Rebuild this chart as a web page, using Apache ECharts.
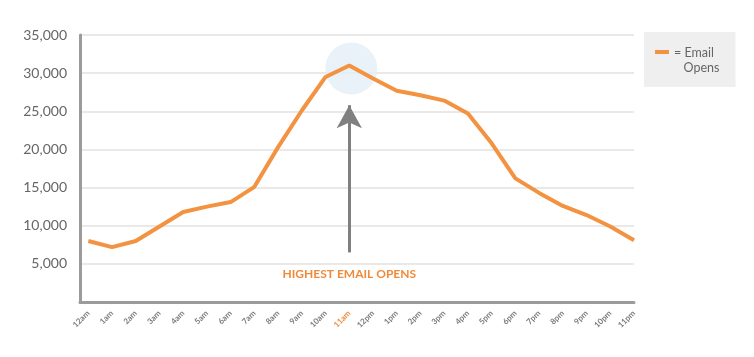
<!DOCTYPE html>
<html>
<head>
<meta charset="utf-8">
<script src="https://cdn.jsdelivr.net/npm/echarts@6/dist/echarts.min.js"></script>
<style>
html,body{margin:0;padding:0;background:#fff;}
#chart{width:754px;height:357px;}
</style>
</head>
<body>
<div id="chart"></div>
<script>
// ---- data ----
const hours = ['12am','1am','2am','3am','4am','5am','6am','7am','8am','9am','10am','11am',
               '12pm','1pm','2pm','3pm','4pm','5pm','6pm','7pm','8pm','9pm','10pm','11pm'];
const emailOpens = [8000, 7200, 8000, 9900, 11800, 12500, 13100, 15100, 20300, 25100, 29500, 31000,
                    29300, 27700, 27100, 26400, 24700, 20800, 16200, 14300, 12600, 11400, 9900, 8100];
const yTicks = [5000, 10000, 15000, 20000, 25000, 30000, 35000];
const seriesName = 'Email Opens';
const annotationText = 'HIGHEST EMAIL OPENS';
const arrowFromValue = 6500;
const arrowToValue = 25800;
const highlightHour = '11am';

const FONT = 'Lato, "Open Sans", sans-serif';
const ORANGE = '#f39341';
const peakIdx = emailOpens.indexOf(Math.max(...emailOpens));
const peakVal = emailOpens[peakIdx];

const chart = echarts.init(document.getElementById('chart'));
chart.setOption({
  animation: false,
  backgroundColor: '#ffffff',
  grid: { left: 80, right: 120, top: 35, bottom: 55 },
  legend: {
    data: [seriesName],
    left: 644, top: 32,
    orient: 'vertical',
    backgroundColor: '#efefef',
    padding: [13, 16, 12, 11],
    itemWidth: 14, itemHeight: 20,
    icon: 'path://M0,0h14v4h-14z M0,20h0.01',
    formatter: () => '= Email\n   Opens',
    textStyle: { color: '#666666', fontSize: 12.5, lineHeight: 15, fontFamily: FONT }
  },
  xAxis: {
    type: 'value',
    min: -0.35, max: hours.length - 1,
    axisLine: { show: true, onZero: false, lineStyle: { color: '#9b9b9b', width: 3 } },
    axisTick: { show: false },
    splitLine: { show: false },
    axisLabel: {
      customValues: hours.map((h, i) => i),
      formatter: v => hours[v] || '',
      rotate: 45,
      margin: 10,
      fontSize: 8,
      fontWeight: 'bold',
      fontFamily: FONT,
      color: (v) => hours[v] === highlightHour ? '#ef8a3a' : '#7a7a7a'
    }
  },
  yAxis: {
    type: 'value',
    min: 0, max: 35000, interval: 5000,
    axisLine: { show: true, onZero: false, lineStyle: { color: '#9b9b9b', width: 3 } },
    axisTick: { show: false },
    splitLine: { show: true, lineStyle: { color: '#e9e9e9', width: 2 } },
    axisLabel: {
      margin: 13,
      fontSize: 14,
      fontFamily: FONT,
      color: '#666666',
      formatter: v => yTicks.includes(v) ? v.toLocaleString('en-US') : ''
    }
  },
  series: [
    {
      name: 'highlight',
      type: 'scatter',
      z: 1,
      silent: true,
      symbolSize: 52,
      symbolOffset: [2, 3],
      itemStyle: { color: '#e4eff6' },
      data: [[peakIdx, peakVal]],
      markLine: {
        silent: true,
        symbol: ['none', 'arrow'],
        symbolSize: [19, 23],
        lineStyle: { color: '#808080', width: 3, type: 'solid' },
        label: {
          show: true,
          position: 'start',
          distance: 16,
          formatter: annotationText,
          color: '#ef8a3a',
          fontSize: 12,
          fontWeight: 'bold',
          fontFamily: FONT
        },
        data: [[{ coord: [peakIdx, arrowFromValue] }, { coord: [peakIdx, arrowToValue] }]]
      }
    },
    {
      name: seriesName,
      type: 'line',
      z: 3,
      symbol: 'none',
      color: ORANGE,
      lineStyle: { color: ORANGE, width: 4 },
      data: emailOpens.map((v, i) => [i, v])
    }
  ]
});
</script>
</body>
</html>
